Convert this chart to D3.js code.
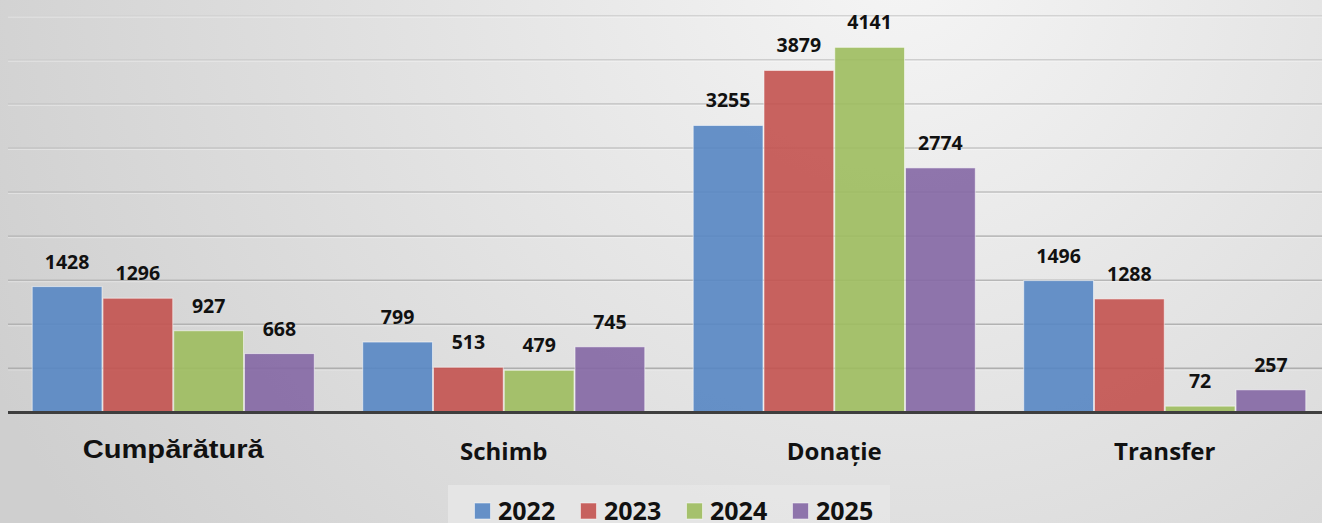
<!DOCTYPE html>
<html>
<head>
<meta charset="utf-8">
<script src="https://cdn.jsdelivr.net/npm/d3@7/dist/d3.min.js"></script>
<style>
  html, body { margin: 0; padding: 0; background: #dcdcdc; }
  svg { display: block; }
</style>
</head>
<body>
<svg id="chart" width="1322" height="523"></svg>
<script>
// Operations per category, by year
const categories = ["Cumpărătură", "Schimb", "Donație", "Transfer"];
const years = ["2022", "2023", "2024", "2025"];
const values2022 = [1428, 799, 3255, 1496];
const values2023 = [1296, 513, 3879, 1288];
const values2024 = [927, 479, 4141, 72];
const values2025 = [668, 745, 2774, 257];
const yTicks = [0, 500, 1000, 1500, 2000, 2500, 3000, 3500, 4000, 4500];

const seriesValues = [values2022, values2023, values2024, values2025];
const colors = ["#5686c3", "#c3524f", "#9dbd5e", "#8467a4"];

const W = 1322, H = 523;
const svg = d3.select("#chart");
const labelFont = "'Open Sans', Lato, sans-serif";

// background
const defs = svg.append("defs");
const bg = defs.append("radialGradient").attr("id", "bg")
  .attr("gradientUnits", "userSpaceOnUse")
  .attr("cx", 900).attr("cy", -40).attr("r", 1000);
bg.append("stop").attr("offset", "0").attr("stop-color", "#f5f5f5");
bg.append("stop").attr("offset", "0.55").attr("stop-color", "#e0e0e0");
bg.append("stop").attr("offset", "1").attr("stop-color", "#cfcfcf");
svg.append("rect").attr("width", W).attr("height", H).attr("fill", "url(#bg)");

const plotLeft = 8, plotRight = 1330;
const y = d3.scaleLinear().domain([0, 4500]).range([412.5, 15.7]);
const x0 = d3.scaleBand().domain(categories).range([plotLeft, plotRight])
  .paddingInner(0.1435).paddingOuter(0.07175);
const x1 = d3.scaleBand().domain(years).range([0, x0.bandwidth()]);

// gridlines
const gridColor = d3.scaleLinear().domain([4500, 0]).range(["#d3d3d3", "#a9a9a9"]);
const grid = svg.append("g");
grid.selectAll("line.grid").data(yTicks.filter(t => t > 0)).join("line")
  .attr("class", "grid")
  .attr("x1", plotLeft).attr("x2", W)
  .attr("y1", d => y(d)).attr("y2", d => y(d))
  .attr("stroke", d => gridColor(d)).attr("stroke-width", 1.6);
grid.selectAll("line.shadow").data(yTicks.filter(t => t > 0)).join("line")
  .attr("class", "shadow")
  .attr("x1", plotLeft).attr("x2", W)
  .attr("y1", d => y(d) + 1.5).attr("y2", d => y(d) + 1.5)
  .attr("stroke", "#ffffff").attr("stroke-opacity", 0.35).attr("stroke-width", 1);

// bars
const groups = svg.append("g").selectAll("g").data(categories).join("g")
  .attr("transform", d => `translate(${x0(d)},0)`);

groups.selectAll("rect").data((c, ci) => years.map((yr, si) => ({ yr, si, v: seriesValues[si][ci] })))
  .join("rect")
  .attr("x", d => x1(d.yr) + 0.5)
  .attr("width", x1.bandwidth() - 1)
  .attr("y", d => y(d.v))
  .attr("height", d => y(0) - y(d.v))
  .attr("fill", d => colors[d.si])
  .attr("fill-opacity", 0.9)
  .attr("stroke", "#ffffff").attr("stroke-opacity", 0.55).attr("stroke-width", 1);

// value labels
groups.selectAll("text").data((c, ci) => years.map((yr, si) => ({ yr, si, v: seriesValues[si][ci] })))
  .join("text")
  .attr("x", d => x1(d.yr) + x1.bandwidth() / 2)
  .attr("y", d => y(d.v) - 18)
  .attr("text-anchor", "middle")
  .attr("font-family", labelFont)
  .attr("font-weight", 700)
  .attr("font-size", 19.5)
  .attr("fill", "#111")
  .text(d => d.v);

// baseline
svg.append("line")
  .attr("x1", plotLeft).attr("x2", W)
  .attr("y1", y(0)).attr("y2", y(0))
  .attr("stroke", "#3e3e3e").attr("stroke-width", 3);

// category labels
svg.append("g").selectAll("text").data(categories).join("text")
  .attr("x", d => x0(d) + x0.bandwidth() / 2)
  .attr("y", (d, i) => i === 0 ? 457.5 : 460)
  .attr("text-anchor", "middle")
  .attr("font-family", (d, i) => i === 0 ? "'Liberation Sans', Arial, sans-serif" : labelFont)
  .attr("font-weight", 700)
  .attr("font-size", (d, i) => i === 0 ? 26.5 : 24)
  .each(function (d, i) {
    if (i === 0) d3.select(this).attr("textLength", 181).attr("lengthAdjust", "spacingAndGlyphs");
  })
  .attr("fill", "#111")
  .text(d => d);

// legend
const legend = svg.append("g");
legend.append("rect")
  .attr("x", 448).attr("y", 485).attr("width", 442).attr("height", 45)
  .attr("fill", "#e6e6e6").attr("fill-opacity", 0.85);
const items = legend.selectAll("g").data(years).join("g")
  .attr("transform", (d, i) => `translate(${474.5 + i * 106},0)`);
items.append("rect")
  .attr("x", 0).attr("y", 503).attr("width", 16).attr("height", 16)
  .attr("fill", (d, i) => colors[i]).attr("fill-opacity", 0.9)
  .attr("stroke", "#ffffff").attr("stroke-opacity", 0.5);
items.append("text")
  .attr("x", 23.5).attr("y", 519.5)
  .attr("font-family", labelFont)
  .attr("font-weight", 700)
  .attr("font-size", 25)
  .attr("fill", "#111")
  .text(d => d);
</script>
</body>
</html>
